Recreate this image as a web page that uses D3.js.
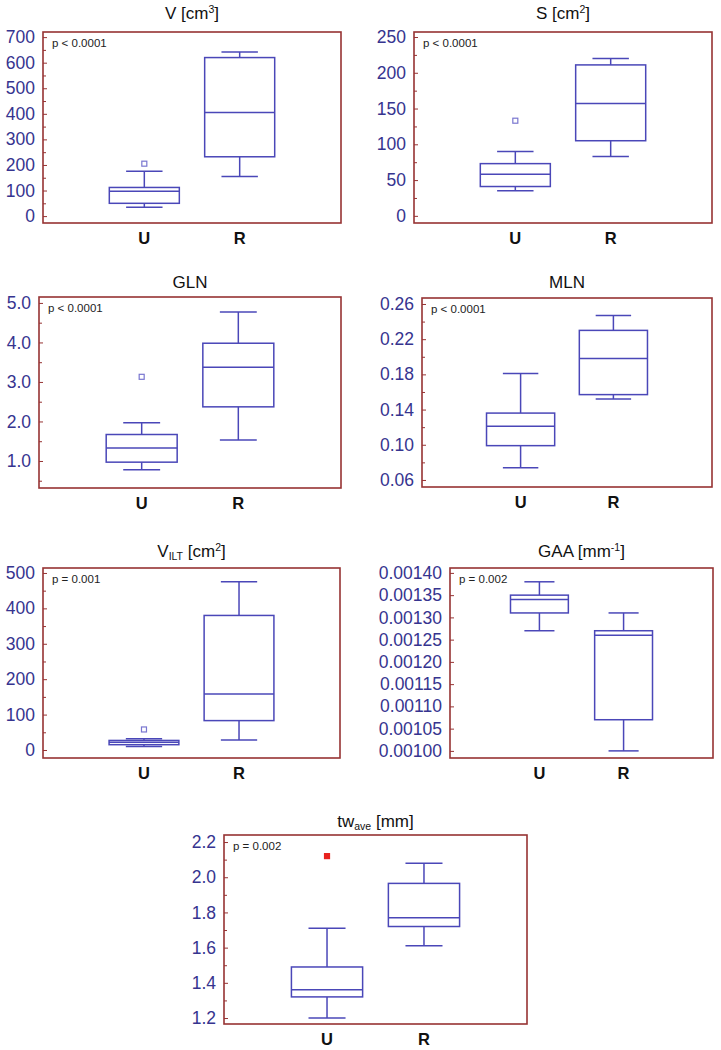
<!DOCTYPE html>
<html>
<head>
<meta charset="utf-8">
<script src="https://cdn.jsdelivr.net/npm/d3@7"></script>
<style>
  body { margin: 0; background: #fff; }
  svg { font-family: "Liberation Sans", Arial, sans-serif; }
</style>
</head>
<body>
<svg id="chart" width="721" height="1050"></svg>
<script>
// groups on the x axis
var categories = ["U", "R"];

// five-number summaries per group: [low whisker, Q1, median, Q3, high whisker]
var vStats    = [[35, 50, 97, 112, 175], [155, 232, 405, 620, 642]];
var sStats    = [[35, 41, 58, 73, 90], [83, 105, 157, 211, 220]];
var glnStats  = [[0.78, 0.97, 1.33, 1.67, 1.97], [1.53, 2.37, 3.37, 3.98, 4.77]];
var mlnStats  = [[0.074, 0.099, 0.121, 0.136, 0.181], [0.152, 0.157, 0.198, 0.230, 0.247]];
var viltStats = [[10, 15, 22, 27, 32], [28, 83, 158, 380, 475]];
var gaaStats  = [[0.00127, 0.00131, 0.00134, 0.00135, 0.00138], [0.00100, 0.00107, 0.00126, 0.00127, 0.00131]];
var twStats   = [[1.20, 1.32, 1.36, 1.49, 1.71], [1.61, 1.72, 1.77, 1.965, 2.08]];

// outliers: [group, value]
var vOutliers    = [["U", 205]];
var sOutliers    = [["U", 133]];
var glnOutliers  = [["U", 3.13]];
var viltOutliers = [["U", 58]];
var twOutliers   = [["U", 2.12]];

// p values printed inside each frame
var pLabels = ["p  < 0.0001", "p  < 0.0001", "p  < 0.0001", "p  < 0.0001", "p  = 0.001", "p  = 0.002", "p  = 0.002"];

// tick values
var vTicks    = [0, 100, 200, 300, 400, 500, 600, 700];
var sTicks    = [0, 50, 100, 150, 200, 250];
var glnTicks  = [1, 2, 3, 4, 5];
var mlnTicks  = [0.06, 0.10, 0.14, 0.18, 0.22, 0.26];
var viltTicks = [0, 100, 200, 300, 400, 500];
var gaaTicks  = [0.00100, 0.00105, 0.00110, 0.00115, 0.00120, 0.00125, 0.00130, 0.00135, 0.00140];
var twTicks   = [1.2, 1.4, 1.6, 1.8, 2.0, 2.2];

var vMinor    = d3.range(50, 700, 100);
var sMinor    = d3.range(25, 250, 50);
var glnMinor  = [0.5, 1.5, 2.5, 3.5, 4.5];
var mlnMinor  = [0.08, 0.12, 0.16, 0.20, 0.24];
var viltMinor = d3.range(50, 500, 100);
var gaaMinor  = [];
var twMinor   = [1.3, 1.5, 1.7, 1.9, 2.1];

var frameColor = "#963333";
var boxColor = "#4a47b8";
var labelColor = "#36348f";

// panel layout: frame box in page pixels and y domain
var panels = [
  { title: [["V [cm", 0], ["3", 1], ["]", 0]], stats: vStats, outliers: vOutliers, ticks: vTicks, minor: vMinor, fmt: d3.format("d"),
    x0: 43, y0: 32, x1: 341, y1: 223, domain: [-27, 720], titleY: 19, p: pLabels[0] },
  { title: [["S [cm", 0], ["2", 1], ["]", 0]], stats: sStats, outliers: sOutliers, ticks: sTicks, minor: sMinor, fmt: d3.format("d"),
    x0: 414, y0: 32, x1: 712, y1: 223, domain: [-10, 257], titleY: 19, p: pLabels[1] },
  { title: [["GLN", 0]], stats: glnStats, outliers: glnOutliers, ticks: glnTicks, minor: glnMinor, fmt: d3.format(".1f"),
    x0: 39, y0: 297, x1: 341, y1: 488, domain: [0.316, 5.15], titleY: 288, p: pLabels[2] },
  { title: [["MLN", 0]], stats: mlnStats, outliers: [], ticks: mlnTicks, minor: mlnMinor, fmt: d3.format(".2f"),
    x0: 422, y0: 298, x1: 712, y1: 487, domain: [0.052, 0.2668], titleY: 288, p: pLabels[3] },
  { title: [["V", 0], ["ILT", -1], [" [cm", 0], ["2", 1], ["]", 0]], stats: viltStats, outliers: viltOutliers, ticks: viltTicks, minor: viltMinor, fmt: d3.format("d"),
    x0: 43, y0: 568, x1: 340, y1: 758, domain: [-22.6, 514], titleY: 557, p: pLabels[4] },
  { title: [["GAA [mm", 0], ["-1", 1], ["]", 0]], stats: gaaStats, outliers: [], ticks: gaaTicks, minor: gaaMinor, fmt: d3.format(".5f"),
    x0: 450, y0: 568, x1: 713, y1: 758, domain: [0.000984, 0.001411], titleY: 557, p: pLabels[5], boxFrac: 0.22 },
  { title: [["tw", 0], ["ave", -1], [" [mm]", 0]], stats: twStats, outliers: twOutliers, ticks: twTicks, minor: twMinor, fmt: d3.format(".1f"),
    x0: 224, y0: 835, x1: 527, y1: 1024, domain: [1.166, 2.24], titleY: 827, p: pLabels[6], red: true }
];

var svg = d3.select("#chart");

panels.forEach(function(p) {
  var w = p.x1 - p.x0, h = p.y1 - p.y0;
  var g = svg.append("g").attr("transform", "translate(" + p.x0 + "," + p.y0 + ")");

  var y = d3.scaleLinear().domain(p.domain).range([h, 0]);
  var x = d3.scalePoint().domain(categories).range([w * 0.34, w * 0.66]);
  var boxW = w * (p.boxFrac || 0.235);
  var capW = boxW * 0.52;

  // minor ticks
  g.append("g")
      .call(d3.axisLeft(y).tickValues(p.minor).tickSize(-3).tickFormat(""))
      .call(function(a) { a.select(".domain").remove(); })
      .selectAll("line").attr("stroke", frameColor);

  // major ticks + labels
  var ax = g.append("g")
      .call(d3.axisLeft(y).tickValues(p.ticks).tickSize(-4).tickPadding(8).tickFormat(p.fmt));
  ax.select(".domain").remove();
  ax.selectAll("line").attr("stroke", frameColor);
  ax.selectAll("text")
      .attr("fill", labelColor)
      .style("font-size", "17.5px")
      .style("font-family", "Liberation Sans, Arial, sans-serif");

  // frame
  g.append("rect")
      .attr("width", w).attr("height", h)
      .attr("fill", "none")
      .attr("stroke", frameColor)
      .attr("stroke-width", 1.6);

  // p value
  g.append("text")
      .attr("x", 9).attr("y", 15)
      .attr("fill", "#222")
      .style("font-size", "11.5px")
      .text(p.p);

  // boxes
  var data = categories.map(function(c, i) { return { cat: c, s: p.stats[i] }; });
  var box = g.selectAll("g.box")
      .data(data)
    .enter().append("g")
      .attr("class", "box")
      .attr("fill", "none")
      .attr("stroke", boxColor)
      .attr("stroke-width", 1.5);

  box.append("line")
      .attr("x1", function(d) { return x(d.cat); })
      .attr("x2", function(d) { return x(d.cat); })
      .attr("y1", function(d) { return y(d.s[0]); })
      .attr("y2", function(d) { return y(d.s[1]); });
  box.append("line")
      .attr("x1", function(d) { return x(d.cat); })
      .attr("x2", function(d) { return x(d.cat); })
      .attr("y1", function(d) { return y(d.s[3]); })
      .attr("y2", function(d) { return y(d.s[4]); });
  [0, 4].forEach(function(k) {
    box.append("line")
        .attr("x1", function(d) { return x(d.cat) - capW / 2; })
        .attr("x2", function(d) { return x(d.cat) + capW / 2; })
        .attr("y1", function(d) { return y(d.s[k]); })
        .attr("y2", function(d) { return y(d.s[k]); });
  });
  box.append("rect")
      .attr("x", function(d) { return x(d.cat) - boxW / 2; })
      .attr("width", boxW)
      .attr("y", function(d) { return y(d.s[3]); })
      .attr("height", function(d) { return y(d.s[1]) - y(d.s[3]); })
      .attr("fill", "#fff");
  box.append("line")
      .attr("x1", function(d) { return x(d.cat) - boxW / 2; })
      .attr("x2", function(d) { return x(d.cat) + boxW / 2; })
      .attr("y1", function(d) { return y(d.s[2]); })
      .attr("y2", function(d) { return y(d.s[2]); });

  // outliers
  g.selectAll("rect.out")
      .data(p.outliers)
    .enter().append("rect")
      .attr("class", "out")
      .attr("x", function(d) { return x(d[0]) - 2.5; })
      .attr("y", function(d) { return y(d[1]) - 2.5; })
      .attr("width", 5).attr("height", 5)
      .attr("fill", p.red ? "#e8221e" : "#fff")
      .attr("stroke", p.red ? "#e8221e" : "#7a77d0")
      .attr("stroke-width", 1.2);

  // category labels
  g.selectAll("text.cat")
      .data(categories)
    .enter().append("text")
      .attr("class", "cat")
      .attr("x", function(d) { return x(d); })
      .attr("y", h + 21)
      .attr("text-anchor", "middle")
      .attr("fill", "#111")
      .style("font-size", "16.5px")
      .style("font-weight", "bold")
      .text(function(d) { return d; });

  // title with sub/superscripts
  var t = svg.append("text")
      .attr("x", p.x0 + w / 2)
      .attr("y", p.titleY)
      .attr("text-anchor", "middle")
      .attr("fill", "#111")
      .style("font-size", "17px");
  p.title.forEach(function(part) {
    var ts = t.append("tspan").text(part[0]);
    if (part[1] === 1) ts.style("font-size", "10.5px").attr("baseline-shift", "55%");
    if (part[1] === -1) ts.style("font-size", "10.5px").attr("baseline-shift", "-30%");
  });
});
</script>
</body>
</html>
